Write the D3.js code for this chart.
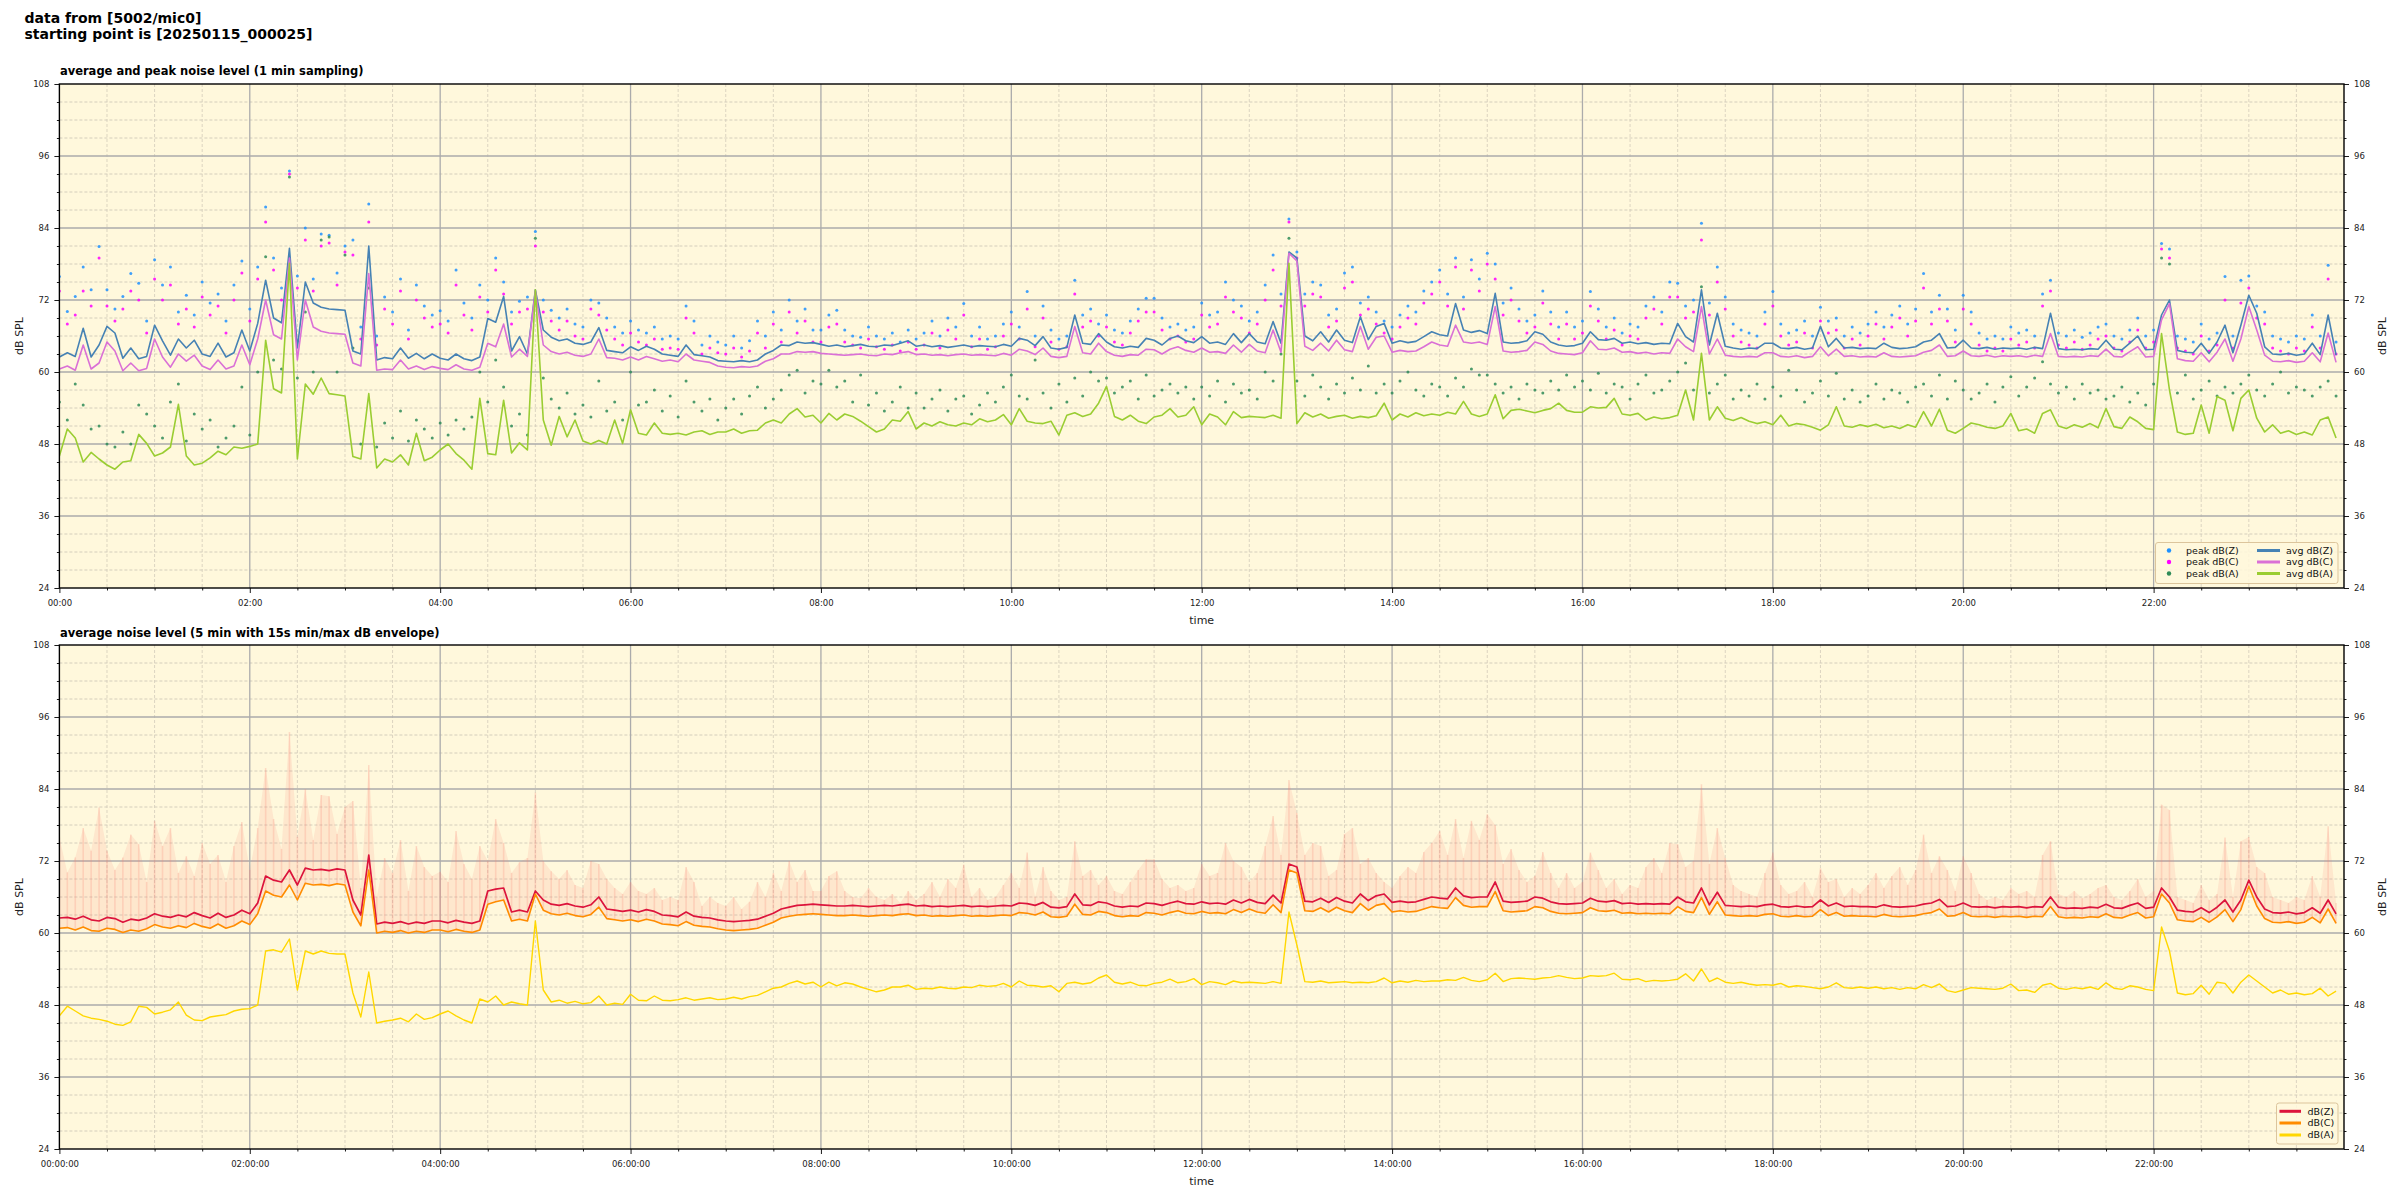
<!DOCTYPE html>
<html><head><meta charset="utf-8">
<script src="https://cdn.jsdelivr.net/npm/d3@7"></script>
<style>
html,body{margin:0;padding:0;background:#fff;}
svg{display:block;font-family:"DejaVu Sans",sans-serif;}
</style></head><body>
<svg id="chart" width="2400" height="1200"></svg>
<script>
// ---------- texts ----------
const figTitle = ["data from [5002/mic0]", "starting point is [20250115_000025]"];
const panelTitles = ["average and peak noise level (1 min sampling)", "average noise level (5 min with 15s min/max dB envelope)"];
const xTickLabelsTop = ["00:00","02:00","04:00","06:00","08:00","10:00","12:00","14:00","16:00","18:00","20:00","22:00"];
const xTickLabelsBottom = ["00:00:00","02:00:00","04:00:00","06:00:00","08:00:00","10:00:00","12:00:00","14:00:00","16:00:00","18:00:00","20:00:00","22:00:00"];
const xTickMinutes = [0,120,240,360,480,600,720,840,960,1080,1200,1320];
const yTickValues = [24,36,48,60,72,84,96,108];
const sampleStepMinutes = 5;

// ---------- top panel: 1-min averages (read every 5 min) ----------
const avgZ = [
62.5,63.2,62.6,67.3,62.5,64.5,67.6,66.5,62.3,64.0,62.2,62.6,
67.8,65.2,62.8,65.5,64.0,65.3,63.0,62.6,64.8,62.5,63.2,67.0,
63.5,68.1,75.3,69.0,68.2,80.6,64.0,75.0,71.5,70.8,70.5,70.4,
70.3,63.5,63.0,81.0,62.0,62.4,62.2,64.0,62.3,63.1,62.2,63.0,
62.3,62.0,63.0,62.2,61.9,62.5,68.9,68.3,72.6,63.5,65.9,63.0,
73.7,67.0,65.8,65.2,65.5,64.8,64.6,65.0,67.4,63.6,63.4,63.2,
64.2,63.6,64.3,63.8,63.0,62.8,62.6,64.5,62.9,62.7,62.5,61.9,
61.8,61.7,61.9,61.7,62.0,63.0,63.6,64.5,64.4,65.0,64.8,64.9,
64.6,64.3,64.5,64.2,64.4,64.6,64.3,64.2,64.5,64.4,64.8,65.2,
64.3,64.5,64.2,64.4,64.1,64.3,64.5,64.2,64.4,64.3,64.2,64.6,
64.3,65.6,65.3,64.4,65.9,64.0,63.8,64.1,69.5,64.8,64.6,66.4,
65.0,64.2,64.0,64.3,64.1,65.6,65.3,64.5,65.6,66.0,65.2,64.9,
65.9,64.8,65.0,64.6,66.4,64.9,66.4,65.0,64.7,68.4,64.8,80.0,
79.0,66.0,65.2,66.7,65.0,67.0,65.3,64.9,69.2,65.4,67.6,68.1,
64.8,65.2,64.9,65.1,65.9,66.7,66.2,66.0,71.4,67.0,66.6,66.9,
66.4,73.1,65.0,64.8,64.9,65.2,66.7,66.3,65.0,64.5,64.3,64.4,
64.8,66.7,65.4,65.3,65.6,64.8,65.0,64.7,64.9,64.6,64.8,64.7,
68.1,65.9,65.0,73.7,64.5,69.8,64.3,64.0,63.8,64.0,63.9,64.8,
64.8,64.0,63.9,64.1,63.8,64.0,67.6,64.2,65.6,64.0,64.1,63.9,
64.0,63.9,64.8,64.1,63.9,64.0,64.2,65.0,65.3,66.4,64.0,64.1,
65.3,64.0,63.9,64.1,63.8,64.0,63.9,64.0,63.8,64.1,63.9,69.8,
63.9,63.7,63.8,63.7,63.9,63.8,65.3,63.8,63.7,64.8,66.0,63.7,
63.8,69.5,72.0,63.6,63.3,63.2,64.8,63.1,65.0,67.8,63.2,67.8,
72.8,69.8,64.2,63.0,62.9,63.1,62.8,63.0,64.8,62.9,69.5,62.8];
const avgC = [
60.5,61.0,60.3,64.5,60.5,61.5,65.0,63.5,60.2,61.5,60.2,60.6,
65.5,62.5,60.8,63.0,61.8,62.8,61.0,60.4,62.0,60.5,61.0,64.5,
61.2,65.5,72.0,66.2,65.5,79.0,62.0,72.0,67.5,66.8,66.5,66.4,
66.3,61.5,61.0,76.4,60.3,60.5,60.4,62.0,60.5,61.0,60.4,60.9,
60.6,60.4,61.2,60.5,60.3,60.8,64.8,64.2,68.0,62.5,63.8,62.6,
73.5,64.5,63.4,63.0,63.3,62.8,62.6,63.0,65.5,62.4,62.3,62.0,
62.5,62.0,62.6,62.2,61.8,62.0,61.7,63.0,62.0,61.8,61.6,61.0,
60.8,60.7,60.9,60.8,61.0,61.8,62.2,63.0,63.0,63.4,63.3,63.4,
63.1,63.0,62.9,62.8,62.9,63.0,62.8,62.7,63.0,62.9,63.2,63.4,
62.9,63.0,62.8,62.9,62.7,62.9,63.0,62.8,62.9,62.8,62.7,63.1,
62.8,63.8,63.5,62.9,64.0,62.6,62.4,62.6,67.6,63.2,63.0,64.8,
63.4,62.8,62.6,62.9,62.8,63.8,63.7,63.0,63.8,64.2,63.6,63.3,
64.0,63.3,63.4,63.1,64.5,63.3,64.6,63.5,63.2,67.0,63.3,79.8,
78.5,64.3,63.6,64.8,63.5,65.3,63.7,63.4,67.6,63.8,65.8,66.0,
63.3,63.6,63.4,63.5,64.2,65.0,64.5,64.3,67.8,65.0,64.8,65.0,
64.6,70.9,63.5,63.3,63.4,63.6,65.0,64.6,63.5,63.1,63.0,62.9,
63.2,65.2,63.8,63.7,64.0,63.3,63.4,63.1,63.3,63.0,63.2,63.1,
65.5,64.2,63.4,70.9,63.0,65.5,62.8,62.6,62.5,62.6,62.5,63.2,
63.2,62.6,62.5,62.7,62.4,62.6,64.2,62.7,63.8,62.6,62.7,62.5,
62.6,62.5,63.2,62.6,62.5,62.6,62.7,63.3,63.6,64.5,62.6,62.7,
63.5,62.7,62.6,62.8,62.5,62.7,62.6,62.7,62.5,62.8,62.6,66.4,
62.6,62.5,62.6,62.5,62.7,62.6,63.8,62.6,62.5,63.4,64.2,62.5,
62.6,68.7,71.4,62.2,61.9,61.8,63.2,61.7,63.3,65.5,61.8,65.5,
70.9,67.0,62.8,61.8,61.7,61.9,61.6,61.8,63.2,61.7,66.5,61.6];
const avgA = [
46.0,50.5,49.0,45.0,46.6,45.5,44.5,43.8,45.0,45.2,49.6,48.1,
46.0,46.5,47.5,54.6,46.0,44.5,44.8,45.7,46.8,46.2,47.5,47.3,
47.6,48.0,65.3,57.2,56.5,78.1,45.5,58.0,56.3,59.0,56.4,56.2,
56.0,45.9,45.5,56.4,44.0,45.5,45.0,46.2,44.5,49.8,45.2,45.8,
47.0,48.0,46.4,45.3,43.8,55.6,46.4,46.2,55.3,46.5,48.2,47.0,
73.7,52.0,47.8,52.6,49.2,52.0,48.5,48.0,48.6,48.0,52.0,48.1,
53.7,49.8,49.5,51.5,49.8,49.6,49.8,49.5,50.0,50.2,49.6,50.0,
50.0,50.5,49.8,50.2,50.3,51.5,52.0,51.5,53.0,53.9,52.5,52.8,
51.5,53.1,52.0,53.0,52.6,51.8,50.9,50.0,50.5,52.0,51.8,53.4,
50.5,51.5,51.0,51.7,51.2,51.0,51.5,51.2,52.2,51.7,52.0,52.9,
51.2,53.9,51.8,51.5,51.4,51.8,49.5,52.8,53.2,52.6,53.0,54.8,
57.6,52.6,52.0,52.8,51.8,51.4,52.5,52.8,53.9,52.5,52.8,54.2,
51.2,53.0,52.5,51.2,53.4,52.4,52.6,52.5,52.4,52.8,52.3,78.1,
51.4,53.2,52.5,53.0,52.3,52.6,52.8,52.3,52.6,52.4,52.7,54.8,
52.0,53.0,52.5,53.2,52.7,53.0,52.8,53.3,53.0,55.1,53.0,52.6,
53.0,56.2,52.2,53.6,53.8,53.5,53.2,53.6,53.9,54.8,53.6,53.3,
53.3,54.2,54.0,54.1,55.6,53.0,52.8,53.1,52.0,52.5,52.2,52.4,
52.8,57.0,52.0,63.1,52.0,54.2,52.3,51.9,52.4,51.8,51.4,51.7,
51.2,52.8,51.0,51.4,51.2,50.8,50.3,51.2,54.2,51.0,50.8,51.2,
50.9,51.3,50.7,51.0,50.6,51.2,50.8,53.4,51.0,53.8,50.3,49.8,
50.6,51.5,51.2,50.8,50.6,51.0,53.1,50.2,50.5,49.8,53.1,53.7,
51.0,50.6,51.2,50.8,51.4,50.7,53.9,50.9,50.6,52.5,51.7,50.6,
50.4,66.4,57.0,50.0,49.6,49.8,54.5,49.8,55.9,55.3,50.2,55.6,
57.0,52.3,50.0,51.2,49.8,50.2,49.6,50.0,49.5,52.0,52.5,49.0];

// ---------- top panel: peak values (read every 5 min) ----------
const peakZ = [
75.9,70.1,72.6,77.5,73.7,80.9,73.7,70.5,72.6,76.4,74.8,68.5,
78.7,74.5,77.5,70.0,72.8,69.5,75.0,71.5,73.0,68.5,74.5,78.5,
70.5,77.5,87.5,79.0,74.0,93.5,76.0,84.0,75.5,83.0,82.8,76.5,
81.0,82.0,67.5,88.0,66.0,72.5,70.0,75.5,67.0,74.5,71.0,69.5,
70.2,68.5,77.0,71.5,69.0,74.5,72.0,79.0,75.0,70.0,71.8,72.5,
83.4,72.0,70.3,69.0,70.5,68.0,67.5,72.0,71.5,69.0,67.5,66.5,
68.5,67.0,66.5,67.5,65.5,66.0,65.5,71.0,68.5,64.5,66.0,65.0,
64.5,66.0,64.0,65.2,68.5,66.0,70.0,67.0,72.0,68.5,70.5,67.0,
67.0,69.5,70.3,67.0,66.0,65.8,67.5,66.0,65.5,66.5,65.0,67.0,
65.5,66.5,68.5,66.0,69.0,67.5,71.4,66.0,67.5,65.5,66.0,68.0,
70.0,67.5,73.4,66.0,71.0,67.0,65.5,66.0,75.3,69.5,70.5,68.0,
69.5,67.0,66.5,68.5,70.5,72.3,72.3,69.0,67.5,68.0,67.0,67.5,
71.5,69.5,70.0,75.0,72.0,71.0,68.5,70.0,74.5,79.5,73.0,85.5,
80.0,73.0,75.0,74.5,69.5,70.5,76.5,77.5,71.5,72.5,70.0,68.5,
67.5,69.5,71.0,70.0,73.5,75.0,77.0,73.0,79.0,72.5,78.7,75.5,
79.8,78.0,71.5,74.0,70.5,68.5,69.5,73.5,70.0,67.5,70.0,67.5,
68.5,73.4,70.5,67.5,69.0,66.5,68.0,67.5,71.0,72.5,70.0,75.0,
74.8,71.0,72.0,84.8,71.5,77.5,72.5,68.0,67.0,66.5,66.0,70.0,
73.4,68.0,66.5,67.0,68.5,66.0,70.8,68.5,69.0,66.0,67.5,66.5,
68.0,70.0,67.5,69.5,71.0,68.0,70.5,76.4,70.0,72.8,70.5,67.0,
72.8,70.0,66.5,65.5,66.0,65.5,67.5,66.5,67.0,66.0,73.0,75.3,
66.5,66.0,67.0,65.8,66.5,67.5,68.0,66.0,65.5,67.0,69.0,66.0,
67.0,81.4,80.5,66.0,65.5,65.0,68.0,65.5,66.5,75.9,66.0,75.3,
76.0,71.0,70.0,66.0,65.5,65.0,66.0,65.5,69.5,66.0,77.8,65.0];
const peakC = [
73.5,68.0,69.5,73.5,71.0,79.0,71.0,68.5,70.5,73.5,72.0,66.5,
75.5,72.0,74.5,68.0,70.5,67.5,72.5,69.5,71.0,66.5,72.0,76.5,
68.5,75.5,85.0,77.0,72.0,93.0,74.0,82.0,73.5,81.0,81.5,74.5,
80.0,79.5,65.5,85.0,64.5,70.5,68.0,73.5,65.5,72.0,69.0,67.5,
68.0,66.5,74.5,69.5,67.0,72.5,70.0,77.0,73.0,68.0,70.0,70.5,
81.0,70.0,68.5,67.0,68.5,66.0,65.5,70.5,69.5,67.0,65.5,64.5,
66.5,65.0,64.5,65.5,63.8,64.0,63.8,69.0,66.5,63.0,64.0,63.2,
63.0,64.0,62.5,63.5,66.5,64.0,68.0,65.0,70.0,66.5,68.5,65.0,
65.0,67.5,68.0,65.0,64.5,64.0,65.5,64.2,63.8,64.5,63.5,65.0,
63.8,64.5,66.5,64.0,67.0,65.5,69.5,64.2,65.5,63.8,64.2,66.0,
68.0,65.5,70.5,64.2,69.0,65.0,63.8,64.2,73.0,67.5,68.5,66.0,
67.5,65.0,64.5,66.5,68.5,70.0,70.0,67.0,65.5,66.0,65.0,65.5,
69.5,67.5,68.0,72.5,70.0,69.0,66.5,68.0,72.0,77.0,71.0,85.0,
79.0,71.0,73.0,72.5,67.5,68.5,74.0,75.0,69.5,70.5,68.0,66.5,
65.5,67.5,69.0,68.0,71.5,73.0,75.0,71.0,77.5,70.5,77.0,73.5,
78.0,75.5,69.5,72.0,68.5,66.5,67.5,71.5,68.0,65.5,68.0,65.5,
66.5,71.0,68.5,65.5,67.0,64.5,66.0,65.5,69.0,70.5,68.0,72.5,
72.5,69.0,70.0,82.0,69.5,75.0,70.5,66.0,65.0,64.5,64.0,68.0,
71.0,66.0,64.5,65.0,66.5,64.0,68.5,66.5,67.0,64.0,65.5,64.5,
66.0,68.0,65.5,67.5,69.0,66.0,68.5,74.0,68.0,70.5,68.5,65.0,
70.5,68.0,64.5,63.5,64.0,63.5,65.5,64.5,65.0,64.0,71.0,73.5,
64.5,64.0,65.0,63.8,64.5,65.5,66.0,64.0,63.5,65.0,67.0,64.0,
65.0,80.5,79.0,64.0,63.5,63.0,66.0,63.5,64.5,72.0,64.0,71.5,
74.0,69.0,68.0,64.0,63.5,63.0,64.0,63.5,67.5,64.0,75.5,63.0];
const peakA = [
55.0,52.0,58.0,54.5,50.5,51.0,48.0,47.5,50.0,48.0,54.5,53.0,
51.0,49.0,55.0,58.0,48.5,53.0,50.5,52.0,47.5,49.0,51.0,57.5,
49.5,60.0,79.2,62.0,60.5,92.5,59.0,70.0,60.0,82.0,82.5,60.0,
79.5,64.0,48.0,74.0,47.5,51.5,49.0,53.5,48.5,52.0,50.5,49.0,
51.5,49.5,52.0,50.5,52.5,60.0,55.0,62.0,57.5,51.0,53.0,49.5,
82.3,59.0,55.5,54.0,56.5,53.0,54.5,52.5,58.5,53.5,55.0,52.0,
60.0,54.5,55.0,57.0,53.5,56.0,52.5,58.5,55.0,53.5,55.5,52.0,
54.0,55.5,53.0,56.0,57.5,54.0,55.5,57.0,59.5,60.3,56.5,58.5,
58.0,60.3,57.5,58.5,55.0,59.5,54.5,56.5,53.5,55.0,57.5,54.0,
56.5,54.0,55.5,57.0,53.5,55.5,56.0,53.0,54.5,56.5,55.0,57.5,
59.5,56.0,55.5,62.0,56.5,54.0,58.0,55.0,59.0,56.0,60.0,58.5,
59.0,56.5,57.5,58.5,55.5,59.5,56.0,57.0,58.0,56.5,57.5,55.5,
57.5,56.0,58.5,55.0,58.0,56.5,57.0,55.5,60.0,58.5,63.0,82.3,
58.5,56.0,59.5,57.5,55.5,58.0,56.5,59.0,57.0,61.0,56.5,58.0,
56.5,58.5,60.0,57.0,56.0,58.0,57.5,56.0,59.0,57.5,60.5,59.5,
59.5,58.0,56.5,57.5,55.5,58.0,57.0,56.5,58.5,57.0,59.5,57.5,
58.5,57.0,59.8,56.5,58.0,57.5,55.5,58.0,59.5,56.5,57.0,58.5,
60.0,61.5,57.0,74.2,56.5,58.0,59.5,55.5,57.0,56.0,58.0,55.5,
57.5,56.0,60.3,57.0,55.0,56.5,58.5,56.0,59.8,55.5,57.0,55.0,
56.0,58.0,55.5,57.0,56.5,55.0,57.5,58.0,56.0,59.5,55.5,58.5,
57.0,55.5,56.5,58.0,55.0,57.5,59.2,56.0,57.5,59.0,61.7,58.0,
56.5,57.5,55.5,58.0,56.5,57.0,55.5,56.0,57.5,55.0,56.5,54.5,
58.0,79.0,78.0,56.5,59.5,55.5,57.0,58.5,56.0,57.5,56.5,58.0,
59.5,57.0,56.0,58.0,60.0,56.5,57.5,57.0,56.0,57.5,58.5,56.0];

// ---------- bottom panel: 5-min averages ----------
const avg5Z = [
62.5,62.6,62.3,62.8,62.2,62.0,62.6,62.4,61.8,62.3,62.1,62.5,
63.2,62.8,62.6,63.0,62.7,63.4,62.9,62.5,63.3,62.6,63.0,63.8,
63.2,65.0,69.5,68.8,68.5,70.5,68.0,70.8,70.5,70.6,70.4,70.7,
70.5,65.5,63.0,73.0,61.5,61.8,61.6,61.9,61.5,61.8,61.6,62.0,
62.0,61.7,62.1,61.8,61.6,62.0,67.0,67.3,67.5,63.5,63.8,63.5,
67.0,65.5,64.8,64.6,64.9,64.5,64.3,64.7,66.0,64.0,63.8,63.6,
63.8,63.5,63.9,63.6,63.0,62.9,62.7,63.5,62.8,62.6,62.5,62.2,
62.0,61.9,62.0,62.1,62.3,62.8,63.3,64.0,64.3,64.6,64.7,64.8,
64.7,64.6,64.5,64.5,64.6,64.5,64.4,64.5,64.6,64.5,64.7,64.8,
64.5,64.6,64.4,64.5,64.4,64.5,64.6,64.4,64.5,64.4,64.5,64.6,
64.5,65.0,64.9,64.6,65.1,64.3,64.2,64.4,66.5,64.7,64.6,65.2,
65.0,64.5,64.3,64.5,64.4,65.0,64.9,64.6,65.0,65.3,64.9,64.8,
65.2,64.9,65.0,64.8,65.5,65.0,65.6,65.1,64.9,66.3,65.0,71.5,
71.0,65.3,65.2,65.8,65.1,65.9,65.3,65.0,66.5,65.4,66.2,66.5,
65.1,65.3,65.1,65.2,65.6,66.0,65.8,65.7,67.5,66.2,65.9,66.0,
66.0,68.5,65.3,65.1,65.2,65.3,66.0,65.8,65.2,64.9,64.8,64.9,
65.0,65.8,65.3,65.2,65.4,64.9,65.0,64.8,64.9,64.8,64.9,64.8,
66.0,65.2,65.0,67.5,64.7,66.8,64.6,64.5,64.4,64.5,64.4,64.7,
64.8,64.4,64.3,64.5,64.3,64.4,65.5,64.5,65.0,64.4,64.5,64.4,
64.4,64.3,64.7,64.4,64.3,64.4,64.5,64.8,65.0,65.6,64.4,64.5,
65.0,64.4,64.3,64.4,64.2,64.4,64.3,64.4,64.2,64.4,64.3,66.0,
64.3,64.1,64.2,64.1,64.3,64.2,64.8,64.2,64.1,64.6,65.0,64.1,
64.3,67.5,66.0,63.8,63.6,63.5,64.2,63.4,64.3,65.5,63.5,65.5,
68.8,66.0,64.0,63.4,63.3,63.5,63.2,63.4,64.2,63.3,65.5,63.2];
const avg5C = [
60.8,60.9,60.5,61.0,60.4,60.3,60.8,60.6,60.1,60.5,60.3,60.7,
61.4,61.0,60.8,61.2,60.9,61.6,61.1,60.8,61.5,60.8,61.2,62.0,
61.4,63.2,67.0,66.3,66.0,68.0,65.5,68.3,68.0,68.1,67.9,68.2,
68.0,63.5,61.2,70.5,60.0,60.3,60.1,60.4,60.0,60.3,60.1,60.5,
60.5,60.2,60.6,60.3,60.1,60.5,64.8,65.2,65.5,62.0,62.3,62.0,
66.5,63.8,63.2,63.0,63.3,62.9,62.7,63.1,64.3,62.4,62.2,62.0,
62.2,61.9,62.3,62.0,61.5,61.4,61.2,61.9,61.3,61.1,61.0,60.7,
60.5,60.4,60.5,60.6,60.8,61.3,61.8,62.5,62.8,63.0,63.1,63.2,
63.1,63.0,62.9,62.9,63.0,62.9,62.8,62.9,63.0,62.9,63.1,63.2,
62.9,63.0,62.8,62.9,62.8,62.9,63.0,62.8,62.9,62.8,62.9,63.0,
62.9,63.4,63.3,63.0,63.5,62.7,62.6,62.8,64.8,63.1,63.0,63.6,
63.4,62.9,62.7,62.9,62.8,63.4,63.3,63.0,63.4,63.7,63.3,63.2,
63.6,63.3,63.4,63.2,63.9,63.4,64.0,63.5,63.3,64.7,63.4,70.5,
70.0,63.7,63.6,64.2,63.5,64.3,63.7,63.4,64.9,63.8,64.6,64.9,
63.5,63.7,63.5,63.6,64.0,64.4,64.2,64.1,65.9,64.6,64.3,64.4,
64.4,66.9,63.7,63.5,63.6,63.7,64.4,64.2,63.6,63.3,63.2,63.3,
63.4,64.2,63.7,63.6,63.8,63.3,63.4,63.2,63.3,63.2,63.3,63.2,
64.4,63.6,63.4,65.9,63.1,65.2,63.0,62.9,62.8,62.9,62.8,63.1,
63.2,62.8,62.7,62.9,62.7,62.8,63.9,62.9,63.4,62.8,62.9,62.8,
62.8,62.7,63.1,62.8,62.7,62.8,62.9,63.2,63.4,64.0,62.8,62.9,
63.4,62.8,62.7,62.8,62.6,62.8,62.7,62.8,62.6,62.8,62.7,64.4,
62.7,62.5,62.6,62.5,62.7,62.6,63.2,62.6,62.5,63.0,63.4,62.5,
62.7,66.5,65.0,62.2,62.0,61.9,62.6,61.8,62.7,63.9,61.9,63.9,
67.8,64.5,62.4,61.8,61.7,61.9,61.6,61.8,62.6,61.7,64.0,61.6];
const avg5A = [
46.2,47.8,47.0,46.2,45.8,45.6,45.3,44.8,44.6,45.2,47.8,47.6,
46.5,46.8,47.2,48.5,46.3,45.5,45.4,46.0,46.2,46.4,47.0,47.3,
47.4,48.0,57.0,57.2,56.8,59.0,50.5,57.0,56.5,57.0,56.6,56.5,
56.5,50.0,46.0,53.5,45.0,45.3,45.5,45.8,45.2,46.5,45.6,45.9,
46.5,47.0,46.2,45.5,45.0,49.0,48.5,49.5,48.0,48.5,48.2,48.0,
62.0,50.5,48.5,48.8,48.3,48.6,48.2,48.4,49.5,48.0,48.3,48.1,
49.8,48.8,48.7,49.5,48.8,48.7,48.9,49.2,48.8,49.0,49.2,48.9,
49.0,49.3,49.0,49.4,49.6,50.2,50.8,51.0,51.6,52.0,51.5,51.8,
51.0,51.8,51.2,51.7,51.5,51.0,50.6,50.2,50.5,51.0,51.0,51.3,
50.6,50.8,50.7,51.0,50.8,50.7,51.0,50.9,51.3,51.1,51.2,51.6,
51.0,52.0,51.3,51.2,51.0,51.2,50.2,51.6,51.8,51.5,51.7,52.5,
53.0,51.8,51.5,51.8,51.3,51.2,51.6,51.8,52.3,51.7,51.9,52.4,
51.4,51.9,51.7,51.4,52.0,51.7,51.8,51.7,51.6,51.9,51.6,63.5,
58.0,51.9,51.8,52.0,51.7,51.8,51.9,51.7,51.8,51.7,51.9,52.5,
51.7,52.0,51.8,52.1,51.9,52.0,52.0,52.2,52.1,52.6,52.1,51.9,
52.2,53.3,51.9,52.4,52.5,52.4,52.3,52.5,52.6,52.9,52.6,52.4,
52.5,52.9,52.8,52.9,53.3,52.3,52.2,52.4,51.9,52.1,52.0,52.1,
52.3,53.2,52.0,54.0,51.9,52.5,51.8,51.6,51.8,51.5,51.3,51.4,
51.3,51.6,51.0,51.2,51.1,50.9,50.7,51.0,51.7,50.9,50.8,51.0,
50.8,51.0,50.7,50.9,50.6,50.9,50.7,51.4,50.9,51.5,50.4,50.1,
50.5,50.9,50.8,50.7,50.6,50.8,51.5,50.4,50.5,50.1,51.3,51.6,
50.8,50.6,50.9,50.7,51.0,50.6,51.7,50.8,50.6,51.2,51.0,50.6,
50.4,61.0,57.0,50.0,49.7,49.9,51.3,49.8,51.8,51.6,50.0,51.8,
53.0,52.0,51.0,50.0,50.5,49.8,50.0,49.7,49.9,50.8,49.5,50.3];

// envelope: min/max of 15s readings (lower edge follows dB(C) avg, upper edge the peak dB(Z) readings)
const envelopeLow = avg5C;
const envelopeHigh = peakZ;

// ---------- drawing ----------
const svg = d3.select("#chart");
svg.append("rect").attr("width",2400).attr("height",1200).attr("fill","#ffffff");

const X0 = 59.4, X1 = 2344;
const x = d3.scaleLinear().domain([0,1440]).range([X0,X1]);
const tMin = i => i*sampleStepMinutes;

const colors = {
  pZ:"#1e90ff", pC:"#ff00ff", pA:"#2e8b57",
  aZ:"#4682b4", aC:"#da70d6", aA:"#9acd32",
  bZ:"#dc143c", bC:"#ff8c00", bA:"#ffd700", env:"#fa8072"
};

svg.append("text").attr("x",24.5).attr("y",23).attr("font-size",14).attr("font-weight","bold").attr("fill","#000").text(figTitle[0]);
svg.append("text").attr("x",24.5).attr("y",39).attr("font-size",14).attr("font-weight","bold").attr("fill","#000").text(figTitle[1]);

const panels = [
  {top:84, bottom:588, title:panelTitles[0], titleY:75, labels:xTickLabelsTop, xlabelY:624},
  {top:645, bottom:1149, title:panelTitles[1], titleY:637, labels:xTickLabelsBottom, xlabelY:1185}
];

const yMinor = d3.range(24,109,3).filter(v => v%12 !== 0);
const xMinor = d3.range(30,1440,30).filter(v => v%120 !== 0);
const xMajorGrid = d3.range(120,1440,120);
const yMajorGrid = [36,48,60,72,84,96];

function drawPanel(p, idx){
  const y = d3.scaleLinear().domain([24,108]).range([p.bottom,p.top]);
  const g = svg.append("g");
  const cid = "clip"+idx;
  svg.append("defs").append("clipPath").attr("id",cid).append("rect")
    .attr("x",X0).attr("y",p.top).attr("width",X1-X0).attr("height",p.bottom-p.top);

  g.append("rect").attr("x",X0).attr("y",p.top).attr("width",X1-X0).attr("height",p.bottom-p.top).attr("fill","#fff8dc");

  const grid = g.append("g");
  grid.selectAll(".hmin").data(yMinor).join("line")
    .attr("x1",X0).attr("x2",X1).attr("y1",d=>y(d)).attr("y2",d=>y(d))
    .attr("stroke","#c9c3b4").attr("stroke-width",0.8).attr("stroke-dasharray","3,2");
  grid.selectAll(".vmin").data(xMinor).join("line")
    .attr("y1",p.top).attr("y2",p.bottom).attr("x1",d=>x(d)).attr("x2",d=>x(d))
    .attr("stroke","#d3ccba").attr("stroke-width",0.8).attr("stroke-dasharray","3,2");
  grid.selectAll(".hmaj").data(yMajorGrid).join("line")
    .attr("x1",X0).attr("x2",X1).attr("y1",d=>y(d)).attr("y2",d=>y(d))
    .attr("stroke","#ababab").attr("stroke-width",1.3);
  grid.selectAll(".vmaj").data(xMajorGrid).join("line")
    .attr("y1",p.top).attr("y2",p.bottom).attr("x1",d=>x(d)).attr("x2",d=>x(d))
    .attr("stroke","#ababab").attr("stroke-width",1.3);

  const data = g.append("g").attr("clip-path",`url(#${cid})`);
  const line = arr => d3.line().x((d,i)=>x(tMin(i))).y(d=>y(d))(arr);

  if(idx===0){
    [[peakZ,colors.pZ],[peakC,colors.pC],[peakA,colors.pA]].forEach(([arr,c])=>{
      data.append("g").selectAll("circle").data(arr).join("circle")
        .attr("cx",(d,i)=>x(tMin(i))).attr("cy",d=>y(d)).attr("r",1.5)
        .attr("fill",c).attr("opacity",0.85);
    });
    [[avgZ,colors.aZ],[avgC,colors.aC],[avgA,colors.aA]].forEach(([arr,c])=>{
      data.append("path").attr("d",line(arr)).attr("fill","none").attr("stroke",c).attr("stroke-width",1.6).attr("stroke-linejoin","round");
    });
  } else {
    const area = d3.area().x((d,i)=>x(tMin(i))).y0((d,i)=>y(envelopeLow[i])).y1(d=>y(d));
    data.append("path").attr("d",area(envelopeHigh)).attr("fill",colors.env).attr("opacity",0.14);
    data.append("g").selectAll("line").data(envelopeHigh).join("line")
      .attr("x1",(d,i)=>x(tMin(i))).attr("x2",(d,i)=>x(tMin(i)))
      .attr("y1",(d,i)=>y(envelopeLow[i])).attr("y2",d=>y(d))
      .attr("stroke",colors.env).attr("stroke-width",1.6).attr("opacity",0.22);
    [[avg5Z,colors.bZ,1.7],[avg5C,colors.bC,1.6],[avg5A,colors.bA,1.4]].forEach(([arr,c,w])=>{
      data.append("path").attr("d",line(arr)).attr("fill","none").attr("stroke",c).attr("stroke-width",w).attr("stroke-linejoin","round");
    });
  }

  g.append("rect").attr("x",X0).attr("y",p.top).attr("width",X1-X0).attr("height",p.bottom-p.top)
    .attr("fill","none").attr("stroke","#000").attr("stroke-width",1.4);

  const styleAxis = sel => {
    sel.select(".domain").remove();
    sel.selectAll("text").attr("font-size",8.5).attr("fill","#222").attr("font-family","DejaVu Sans, sans-serif");
    sel.selectAll("line").attr("stroke","#000").attr("stroke-width",0.9);
  };
  g.append("g").attr("transform",`translate(${X0},0)`)
    .call(d3.axisLeft(y).tickValues(yTickValues).tickSize(5).tickPadding(5).tickFormat(d=>String(d))).call(styleAxis);
  g.append("g").attr("transform",`translate(${X0},0)`)
    .call(d3.axisLeft(y).tickValues(yMinor).tickSize(2.5).tickFormat("")).call(styleAxis);
  g.append("g").attr("transform",`translate(${X1},0)`)
    .call(d3.axisRight(y).tickValues(yTickValues).tickSize(5).tickPadding(5).tickFormat(d=>String(d))).call(styleAxis);
  g.append("g").attr("transform",`translate(${X1},0)`)
    .call(d3.axisRight(y).tickValues(yMinor).tickSize(2.5).tickFormat("")).call(styleAxis);
  g.append("g").attr("transform",`translate(0,${p.bottom})`)
    .call(d3.axisBottom(x).tickValues(xTickMinutes).tickSize(5).tickPadding(7).tickFormat((d,i)=>p.labels[i])).call(styleAxis);
  g.append("g").attr("transform",`translate(0,${p.bottom})`)
    .call(d3.axisBottom(x).tickValues(xMinor).tickSize(2.5).tickFormat("")).call(styleAxis);

  g.append("text").attr("x",X0+0.5).attr("y",p.titleY).attr("font-size",11.5).attr("font-weight","bold").attr("fill","#000").text(p.title);
  g.append("text").attr("x",(X0+X1)/2).attr("y",p.xlabelY).attr("text-anchor","middle").attr("font-size",11).attr("fill","#222").text("time");
  const cy = (p.top+p.bottom)/2;
  g.append("text").attr("transform",`translate(22.5,${cy}) rotate(-90)`).attr("text-anchor","middle").attr("font-size",11).attr("fill","#222").text("dB SPL");
  g.append("text").attr("transform",`translate(2385.5,${cy}) rotate(-90)`).attr("text-anchor","middle").attr("font-size",11).attr("fill","#222").text("dB SPL");
}
panels.forEach(drawPanel);

function legendBox(x0,y0,w,h){
  svg.append("rect").attr("x",x0).attr("y",y0).attr("width",w).attr("height",h).attr("rx",2.5)
    .attr("fill","#fff8dc").attr("fill-opacity",0.85).attr("stroke","#dcc59c").attr("stroke-width",1);
}
const legendTop = [
  {label:"peak dB(Z)", kind:"dot", c:colors.pZ},{label:"peak dB(C)", kind:"dot", c:colors.pC},{label:"peak dB(A)", kind:"dot", c:colors.pA},
  {label:"avg dB(Z)", kind:"line", c:colors.aZ},{label:"avg dB(C)", kind:"line", c:colors.aC},{label:"avg dB(A)", kind:"line", c:colors.aA}
];
legendBox(2155.5,542.5,182.5,41);
const rowsTop = [550.5,562,573.5];
legendTop.forEach((e,i)=>{
  const r = rowsTop[i%3];
  if(e.kind==="dot"){
    svg.append("circle").attr("cx",2169).attr("cy",r).attr("r",2.2).attr("fill",e.c);
    svg.append("text").attr("x",2186).attr("y",r+3.4).attr("font-size",9.5).attr("fill","#111").text(e.label);
  } else {
    svg.append("line").attr("x1",2257).attr("x2",2280).attr("y1",r).attr("y2",r).attr("stroke",e.c).attr("stroke-width",3);
    svg.append("text").attr("x",2286).attr("y",r+3.4).attr("font-size",9.5).attr("fill","#111").text(e.label);
  }
});
const legendBottom = [{label:"dB(Z)",c:colors.bZ},{label:"dB(C)",c:colors.bC},{label:"dB(A)",c:colors.bA}];
legendBox(2276.5,1103,61.5,41);
const rowsBottom = [1111.3,1123,1135];
legendBottom.forEach((e,i)=>{
  svg.append("line").attr("x1",2279.5).attr("x2",2301).attr("y1",rowsBottom[i]).attr("y2",rowsBottom[i]).attr("stroke",e.c).attr("stroke-width",3);
  svg.append("text").attr("x",2307.5).attr("y",rowsBottom[i]+3.4).attr("font-size",9.5).attr("fill","#111").text(e.label);
});
</script>
</body></html>
